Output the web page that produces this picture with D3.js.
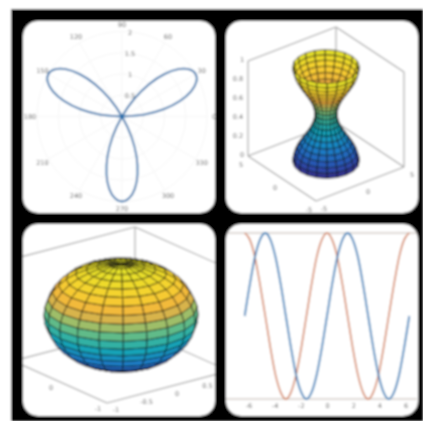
<!DOCTYPE html>
<html>
<head>
<meta charset="utf-8">
<script src="https://cdn.jsdelivr.net/npm/d3@7"></script>
<style>
  html, body { margin: 0; padding: 0; background: #fff; }
  text { font-family: "DejaVu Sans", sans-serif; fill: #666; }
</style>
</head>
<body>
<div id="vis"></div>
<script>
// polar panel: angle in degrees, radius
var polarAngles = [0,5,10,15,20,25,30,35,40,45,50,55,60,65,70,75,80,85,90,95,100,105,110,115,120,125,130,135,140,145,150,155,160,165,170,175,180];
var polarRadii  = [0,.52,1,1.41,1.73,1.93,2,1.93,1.73,1.41,1,.52,0,-.52,-1,-1.41,-1.73,-1.93,-2,-1.93,-1.73,-1.41,-1,-.52,0,.52,1,1.41,1.73,1.93,2,1.93,1.73,1.41,1,.52,0];
var polarRings  = [0.5, 1, 1.5, 2];
var polarSpokes = [0,30,60,90,120,150,180,210,240,270,300,330];

// hourglass panel: one radius per height level
var hourglassZ = [0,.05,.1,.15,.2,.25,.3,.35,.4,.45,.5,.55,.6,.65,.7,.75,.8,.85,.9,.95,1];
var hourglassRadii = [3,2.95,2.81,2.59,2.31,2,1.69,1.41,1.19,1.05,1,1.05,1.19,1.41,1.69,2,2.31,2.59,2.81,2.95,3];
var hourglassZTicks = [0,.2,.4,.6,.8,1];
var hourglassXYTicks = [-5,0,5];

// ball panel
var ballZ = [-1,-.99,-.95,-.89,-.81,-.71,-.59,-.45,-.31,-.16,0,.16,.31,.45,.59,.71,.81,.89,.95,.99,1];
var ballRadii = [0,.16,.31,.45,.59,.71,.81,.89,.95,.99,1,.99,.95,.89,.81,.71,.59,.45,.31,.16,0];
var ballXTicks = [-1,-.5,0,.5];
var ballYTicks = [-1,0];

// wave panel
var waveX = [-6.28,-5.89,-5.5,-5.11,-4.71,-4.32,-3.93,-3.53,-3.14,-2.75,-2.36,-1.96,-1.57,-1.18,-.79,-.39,0,.39,.79,1.18,1.57,1.96,2.36,2.75,3.14,3.53,3.93,4.32,4.71,5.11,5.5,5.89,6.28];
var waveSin = [0,.38,.71,.92,1,.92,.71,.38,0,-.38,-.71,-.92,-1,-.92,-.71,-.38,0,.38,.71,.92,1,.92,.71,.38,0,-.38,-.71,-.92,-1,-.92,-.71,-.38,0];
var waveCos = [1,.92,.71,.38,0,-.38,-.71,-.92,-1,-.92,-.71,-.38,0,.38,.71,.92,1,.92,.71,.38,0,-.38,-.71,-.92,-1,-.92,-.71,-.38,0,.38,.71,.92,1];
var waveTicks = [-6,-4,-2,0,2,4,6];

// colour stops as they look in the picture
var surfaceStops  = [0,.1,.24,.38,.5,.6,.72,.85,1];
var surfaceColors = ["#352a87","#2a50b0","#1a7fc8","#12a3b8","#40b89a","#90c070","#f0b040","#f8d030","#e4e428"];

var panelSize = 192, panelRadius = 15;
var svg = d3.select("#vis").append("svg").attr("width", 423).attr("height", 421).style("display", "block");

var defs = svg.append("defs");
var soft = defs.append("filter").attr("id", "soft")
               .attr("x", 0).attr("y", 0).attr("width", 1).attr("height", 1);
soft.append("feGaussianBlur").attr("stdDeviation", 0.9);

var page = svg.append("g").attr("filter", "url(#soft)");
page.append("rect").attr("width", 423).attr("height", 421).attr("fill", "#fff");
page.append("rect").attr("x", 11).attr("y", 9).attr("width", 412).attr("height", 412).attr("fill", "#000");

function addPanel(id, x, y) {
    defs.append("clipPath").attr("id", id)
        .append("rect").attr("x", x).attr("y", y)
        .attr("width", panelSize).attr("height", panelSize).attr("rx", panelRadius);
    var g = page.append("g").attr("clip-path", "url(#" + id + ")");
    g.append("rect").attr("x", x).attr("y", y)
     .attr("width", panelSize).attr("height", panelSize).attr("fill", "#fff");
    return g;
}

function label(g, txt, x, y, size) {
    g.append("text").text(txt).attr("x", x).attr("y", y)
     .attr("text-anchor", "middle").attr("dominant-baseline", "central")
     .style("font-size", (size || 6.5) + "px");
}

// ---- polar ----
function drawPolar(g) {
    var cx = 122, cy = 116.5;
    var r = d3.scaleLinear().domain([0, 2]).range([0, 85]);
    var plot = g.append("g").attr("transform", "translate(" + cx + "," + cy + ")");

    polarRings.forEach(function(d) {
        plot.append("circle").attr("r", r(d)).attr("fill", "none").attr("stroke", "#f2f2f2").attr("stroke-width", 0.7);
    });
    polarSpokes.forEach(function(d) {
        var a = d * Math.PI / 180;
        plot.append("line")
            .attr("x2", r(2) * Math.cos(a)).attr("y2", -r(2) * Math.sin(a))
            .attr("stroke", "#f2f2f2").attr("stroke-width", 0.7);
        label(plot, d, 92 * Math.cos(a), -92 * Math.sin(a));
    });
    polarRings.forEach(function(d) {
        label(plot, d, 8, -r(d) + 1);
    });

    var rose = d3.lineRadial()
                 .angle(function(d, i) { return (90 - polarAngles[i]) * Math.PI / 180; })
                 .radius(function(d) { return d < 0 ? -r(-d) : r(d); })
                 .curve(d3.curveCardinal);
    plot.append("path").attr("d", rose(polarRadii))
        .attr("fill", "none").attr("stroke", "#1f6aa8").attr("stroke-width", 1.8);
}

// ---- 3d helpers ----
function makeProjection(domains, origin, ex, ey, ez) {
    var xs = d3.scaleLinear().domain(domains[0]), ys = d3.scaleLinear().domain(domains[1]), zs = d3.scaleLinear().domain(domains[2]);
    function project(x, y, z) {
        var u = xs(x), v = ys(y), w = zs(z);
        return [origin[0] + u * ex[0] + v * ey[0] + w * ez[0],
                origin[1] + u * ex[1] + v * ey[1] + w * ez[1]];
    }
    project.far = function(x, y, z) { return xs(x) * 0.55 + ys(y) * 0.55 - zs(z) * 0.6; };
    return project;
}

function drawBox(g, project, d) {
    var x0 = d[0][0], x1 = d[0][1], y0 = d[1][0], y1 = d[1][1], z0 = d[2][0], z1 = d[2][1];
    var edges = [
        [[x0,y0,z0],[x1,y0,z0]], [[x0,y0,z0],[x0,y1,z0]], [[x1,y0,z0],[x1,y1,z0]], [[x0,y1,z0],[x1,y1,z0]],
        [[x1,y1,z0],[x1,y1,z1]], [[x1,y0,z0],[x1,y0,z1]], [[x0,y1,z0],[x0,y1,z1]],
        [[x1,y1,z1],[x1,y0,z1]], [[x1,y1,z1],[x0,y1,z1]]
    ];
    edges.forEach(function(e) {
        var a = project.apply(null, e[0]), b = project.apply(null, e[1]);
        g.append("line").attr("x1", a[0]).attr("y1", a[1]).attr("x2", b[0]).attr("y2", b[1])
         .attr("stroke", "#a0a0a0").attr("stroke-width", 1.1);
    });
}

function drawSurface(g, project, levels, radii, unit, zDomain, edgeOpacity) {
    var color = d3.scaleLinear().domain(surfaceStops).range(surfaceColors);
    var zNorm = d3.scaleLinear().domain(zDomain).range([0, 1]);
    var angles = d3.range(0, 360, 18);
    var faces = [];
    function at(i, deg) {
        var a = deg * Math.PI / 180;
        return [radii[i] * unit * Math.cos(a), radii[i] * unit * Math.sin(a), levels[i]];
    }
    for (var i = 0; i < levels.length - 1; i++) {
        angles.forEach(function(deg) {
            var c = [at(i, deg), at(i, deg + 18), at(i + 1, deg + 18), at(i + 1, deg)];
            faces.push({
                pts: c.map(function(p) { return project(p[0], p[1], p[2]); }),
                far: d3.mean(c, function(p) { return project.far(p[0], p[1], p[2]); }),
                fill: color(zNorm((levels[i] + levels[i + 1]) / 2))
            });
        });
    }
    faces.sort(function(a, b) { return b.far - a.far; });
    g.selectAll("path.face").data(faces).enter().append("path").attr("class", "face")
     .attr("d", function(d) { return "M" + d.pts.join("L") + "Z"; })
     .attr("fill", function(d) { return d.fill; })
     .attr("stroke", "#111").attr("stroke-opacity", edgeOpacity).attr("stroke-width", 0.9);
}

// ---- hourglass ----
function drawHourglass(g) {
    var dom = [[-5, 5], [-5, 5], [0, 1]];
    var project = makeProjection(dom, [316, 201], [88, -34], [-68, -45], [0, -95]);
    drawBox(g, project, dom);
    drawSurface(g, project, hourglassZ, hourglassRadii, 1, [0, 1], 0.8);
    hourglassZTicks.forEach(function(d) {
        var p = project(-5, 5, d);
        label(g, d, p[0] - (d == 0 || d == 1 ? 6 : 10), p[1] - 1);
    });
    hourglassXYTicks.forEach(function(d) {
        var p = project(d, -5, 0), q = project(-5, d, 0);
        label(g, d, p[0] + 8, p[1] + 8);
        label(g, d, q[0] - 7, q[1] + 9);
    });
}

// ---- ball ----
function drawBall(g) {
    var dom = [[-1, 1], [-1, 1], [-1, 1]];
    var project = makeProjection(dom, [107, 403], [122, -32], [-94, -42], [0, -102]);
    drawBox(g, project, dom);
    drawSurface(g, project, ballZ, ballRadii, 1, [-1, 1], 0.8);
    ballXTicks.forEach(function(d) {
        var p = project(d, -1, -1);
        label(g, d, p[0] + 9, p[1] + 7);
    });
    ballYTicks.forEach(function(d) {
        var p = project(-1, d, -1);
        label(g, d, p[0] - 9, p[1] + 6);
    });
}

// ---- wave ----
function drawWave(g) {
    var x = d3.scaleLinear().domain([-6.28, 6.28]).range([244.7, 409.3]);
    var y = d3.scaleLinear().domain([-1, 1]).range([399, 233]);

    [-1, 1].forEach(function(d) {
        g.append("line").attr("x1", 226).attr("x2", 417).attr("y1", y(d)).attr("y2", y(d))
         .attr("stroke", "#bdb3ac").attr("stroke-width", 1.1);
    });
    var axis = d3.axisBottom(x).tickValues(waveTicks).tickSize(0).tickPadding(4)
                 .tickFormat(function(d) { return String(d); });
    var ax = g.append("g").attr("transform", "translate(0," + y(-1) + ")").call(axis);
    ax.select(".domain").remove();
    ax.selectAll("text").style("font-size", "6.5px").style("font-family", "DejaVu Sans").attr("fill", "#666");

    function waveLine(vals) {
        return d3.line().x(function(d, i) { return x(waveX[i]); }).y(function(d) { return y(d); }).curve(d3.curveCardinal)(vals);
    }
    g.append("path").attr("d", waveLine(waveCos)).attr("fill", "none").attr("stroke", "#d0764a").attr("stroke-width", 1.5);
    g.append("path").attr("d", waveLine(waveSin)).attr("fill", "none").attr("stroke", "#2a7cb8").attr("stroke-width", 1.8);
}

drawPolar(addPanel("p1", 23, 21));
drawHourglass(addPanel("p2", 226, 21));
drawBall(addPanel("p3", 23, 224));
drawWave(addPanel("p4", 226, 224));
</script>
</body>
</html>
